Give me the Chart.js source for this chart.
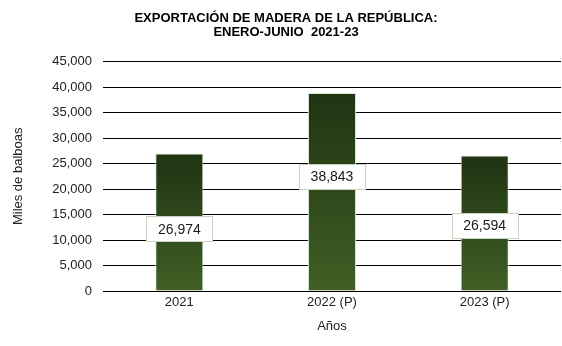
<!DOCTYPE html>
<html>
<head>
<meta charset="utf-8">
<script src="https://cdn.jsdelivr.net/npm/chart.js@4"></script>
<style>
  html, body { margin: 0; padding: 0; background: #fff; }
  #wrap { width: 562px; height: 346px; position: relative; }
</style>
</head>
<body>
<div id="wrap"><canvas id="chart"></canvas></div>
<script>
// Data
const years = ['2021', '2022 (P)', '2023 (P)'];
const exportValues = [26974, 38843, 26594];
const yTicks = [0, 5000, 10000, 15000, 20000, 25000, 30000, 35000, 40000, 45000];
// where each value box sits, as a share of the bar height (styling only)
const labelAnchor = [0.451, 0.578, 0.484];

const fmt = (v) => v.toLocaleString('en-US');

// vertical dark-to-lighter green fill for the bars
const barFill = (context) => {
  const { chart } = context;
  const { ctx, chartArea, scales } = chart;
  if (!chartArea || !scales.y) return '#2f4a1c';
  const top = scales.y.getPixelForValue(exportValues[context.dataIndex]);
  const base = scales.y.getPixelForValue(0);
  if (!Number.isFinite(top) || !Number.isFinite(base)) return '#2f4a1c';
  const g = ctx.createLinearGradient(0, top, 0, base);
  g.addColorStop(0, '#1f3413');
  g.addColorStop(1, '#405f25');
  return g;
};

// value boxes on the bars
const valueBoxes = {
  id: 'valueBoxes',
  afterDatasetsDraw(chart) {
    const { ctx } = chart;
    const meta = chart.getDatasetMeta(0);
    ctx.save();
    ctx.font = '14px "Liberation Sans", Arial, sans-serif';
    ctx.textAlign = 'center';
    ctx.textBaseline = 'middle';
    meta.data.forEach((bar, i) => {
      const text = fmt(exportValues[i]);
      const cy = bar.base - labelAnchor[i] * (bar.base - bar.y);
      const w = 66;
      const h = 25;
      const x = Math.round(bar.x - w / 2) + 0.5;
      const y = Math.round(cy - h / 2) + 0.5;
      ctx.fillStyle = '#ffffff';
      ctx.fillRect(x, y, w, h);
      ctx.strokeStyle = '#c9d4c0';
      ctx.lineWidth = 1;
      ctx.strokeRect(x, y, w, h);
      ctx.fillStyle = '#1a1a1a';
      ctx.fillText(text, bar.x, cy + 1);
    });
    ctx.restore();
  },
};

new Chart(document.getElementById('chart'), {
  type: 'bar',
  data: {
    labels: years,
    datasets: [
      {
        data: exportValues,
        backgroundColor: barFill,
        borderColor: '#dfe8d8',
        borderWidth: 1,
        categoryPercentage: 1,
        barPercentage: 0.315,
      },
    ],
  },
  options: {
    responsive: true,
    maintainAspectRatio: false,
    animation: false,
    devicePixelRatio: 1,
    layout: {
      padding: { left: 11, right: 1, top: 8, bottom: 8 },
    },
    scales: {
      y: {
        min: 0,
        max: 45000,
        afterBuildTicks: (axis) => {
          axis.ticks = yTicks.map((v) => ({ value: v }));
        },
        afterFit: (axis) => { axis.width = 92; },
        grid: {
          color: '#000000',
          lineWidth: 1,
          drawTicks: false,
        },
        border: { display: false },
        ticks: {
          padding: 11,
          color: '#222',
          font: { family: '"Liberation Sans", Arial, sans-serif', size: 13 },
          callback: (value) => fmt(value),
        },
        title: {
          display: true,
          text: 'Miles de balboas',
          color: '#222',
          font: { family: '"Liberation Sans", Arial, sans-serif', size: 13 },
          padding: { top: 0, bottom: 4 },
        },
      },
      x: {
        afterFit: (axis) => { axis.height = 47; },
        grid: { display: false, drawTicks: false },
        border: { display: false },
        ticks: {
          padding: 4,
          color: '#222',
          font: { family: '"Liberation Sans", Arial, sans-serif', size: 13 },
        },
        title: {
          display: true,
          text: 'Años',
          color: '#222',
          font: { family: '"Liberation Sans", Arial, sans-serif', size: 13 },
          padding: { top: 2 },
        },
      },
    },
    plugins: {
      legend: { display: false },
      tooltip: { enabled: false },
      title: {
        display: true,
        text: ['EXPORTACIÓN DE MADERA DE LA REPÚBLICA:', 'ENERO-JUNIO  2021-23'],
        color: '#000',
        font: { family: '"Liberation Sans", Arial, sans-serif', size: 13, weight: 'bold', lineHeight: 1.1 },
        padding: { top: 3, bottom: 22 },
      },
    },
  },
  plugins: [valueBoxes],
});
</script>
</body>
</html>
